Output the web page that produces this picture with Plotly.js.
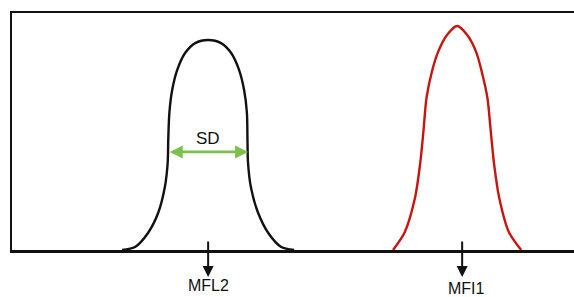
<!DOCTYPE html>
<html>
<head>
<meta charset="utf-8">
<script src="https://cdn.plot.ly/plotly-3.0.1.min.js"></script>
<style>html,body{margin:0;padding:0;background:#fff;}#chart{width:574px;height:297px;}</style>
</head>
<body>
<div id="chart"></div>
<script>
// Black histogram (population 2)
var blackX = [19.6, 21.9, 24.2, 26.0, 27.2, 27.7, 27.8, 28.0, 28.5, 29.4, 30.8, 32.6, 34.9, 37.2, 39.0, 40.4, 41.3, 41.8, 41.9, 42.0, 42.5, 43.8, 45.6, 47.9, 50.2];
var blackY = [0, 1.3, 7.2, 15.6, 26.6, 36.7, 46.4, 57.8, 67.5, 76.0, 83.1, 87.3, 88.6, 87.3, 83.1, 76.0, 67.5, 57.8, 46.4, 36.7, 26.6, 15.6, 7.2, 1.3, 0];
// Red histogram (population 1)
var redX = [67.8, 69.9, 71.7, 72.6, 73.2, 73.75, 74.7, 75.8, 77.4, 79.2, 81.0, 82.6, 83.6, 84.6, 85.2, 85.8, 86.7, 88.4, 90.6];
var redY = [0, 7.6, 21.9, 35.9, 49.8, 64.1, 75.1, 83.5, 90.7, 94.5, 90.7, 83.5, 75.1, 64.1, 49.8, 35.9, 21.9, 7.6, 0];
// Markers under the axis
var markerLabels = ["MFL2", "MFI1"];
var markerX = [34.9, 80.1];
var labelX = [35.0, 80.8];
var labelY = [-14.8, -16.4];
// SD span on the black curve
var sdLabel = "SD";
var sdFrom = 27.8, sdTo = 42.0, sdLevel = 41.4, sdTextY = 47.0;

var yRange = [0, 100];
function toPaperY(v) { return (v - yRange[0]) / (yRange[1] - yRange[0]); }

var traces = [
  {x: blackX, y: blackY, type: 'scatter', mode: 'lines', line: {color: '#111111', width: 2.4, shape: 'spline', smoothing: 0.8}, hoverinfo: 'skip'},
  {x: redX, y: redY, type: 'scatter', mode: 'lines', line: {color: '#c8140f', width: 2.4, shape: 'spline', smoothing: 0.8}, hoverinfo: 'skip'}
];

var ann = [];
ann.push({x: sdTo, y: sdLevel, ax: sdFrom, ay: sdLevel, xref: 'x', yref: 'y', axref: 'x', ayref: 'y',
  text: '', showarrow: true, arrowside: 'end+start', arrowhead: 2, arrowsize: 1, arrowwidth: 2.6, arrowcolor: '#7dc04a'});
ann.push({x: (sdFrom + sdTo) / 2, y: sdTextY, xref: 'x', yref: 'y', text: sdLabel, showarrow: false,
  font: {family: 'Liberation Sans, Arial, sans-serif', size: 17, color: '#111111'}});
for (var i = 0; i < markerLabels.length; i++) {
  ann.push({x: markerX[i], y: -11.4, ax: markerX[i], ay: 4.2, xref: 'x', yref: 'y', axref: 'x', ayref: 'y',
    text: '', showarrow: true, arrowhead: 2, arrowsize: 1.1, arrowwidth: 2, arrowcolor: '#111111'});
  ann.push({x: labelX[i], y: toPaperY(labelY[i]), xref: 'x', yref: 'paper', xanchor: 'center', yanchor: 'middle',
    text: markerLabels[i], showarrow: false, borderpad: 0,
    font: {family: 'Liberation Sans, Arial, sans-serif', size: 16, color: '#111111'}});
}

var layout = {
  width: 574, height: 297,
  margin: {l: 12, r: 0, t: 13, b: 47, pad: 0},
  paper_bgcolor: '#ffffff', plot_bgcolor: '#ffffff',
  showlegend: false,
  xaxis: {range: [0, 100], showgrid: false, zeroline: false, showticklabels: false, ticks: '',
    showline: true, linecolor: '#111111', linewidth: 2.5, mirror: true, fixedrange: true},
  yaxis: {range: yRange, showgrid: false, zeroline: false, showticklabels: false, ticks: '',
    showline: true, linecolor: '#111111', linewidth: 2.5, mirror: false, fixedrange: true},
  annotations: ann
};

Plotly.newPlot('chart', traces, layout, {displayModeBar: false, staticPlot: true});
</script>
</body>
</html>
